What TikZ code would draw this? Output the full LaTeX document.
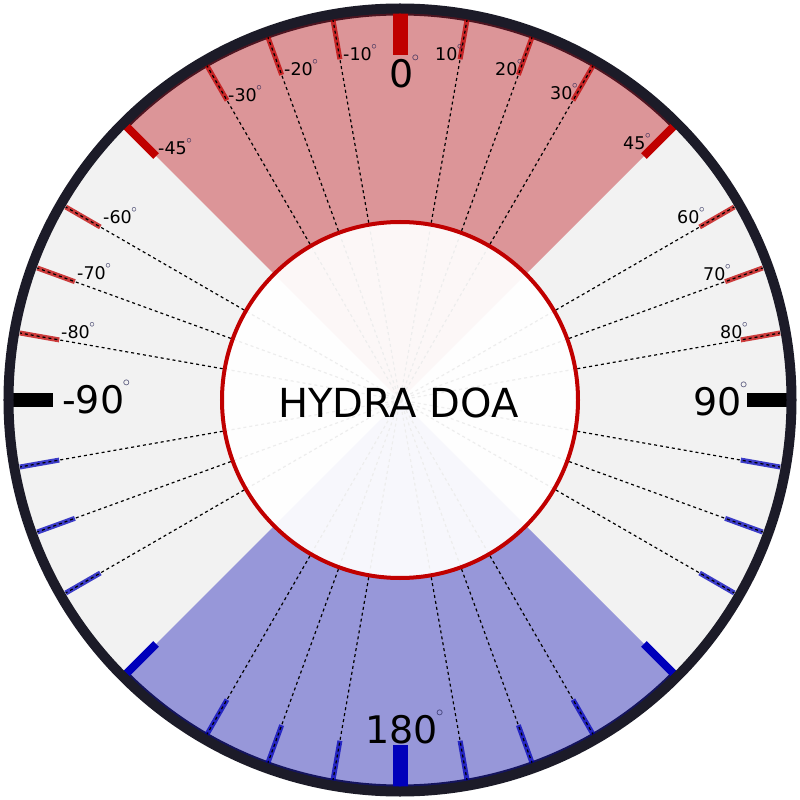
\documentclass[tikz,border=0pt]{standalone}
\usepackage{fontspec}
\setmainfont{DejaVu Sans}
\definecolor{diskgray}{HTML}{F2F2F2}
\definecolor{redfill}{HTML}{DC9598}
\definecolor{bluefill}{HTML}{9797D9}
\definecolor{darkredarc}{HTML}{4E1420}
\definecolor{darkbluearc}{HTML}{14145E}
\definecolor{majred}{HTML}{C00000}
\definecolor{majblue}{HTML}{0000BB}
\definecolor{ringc}{HTML}{1C1B28}
\definecolor{degc}{HTML}{1E1E50}
\newcommand\dgs{\kern-0.4pt\raisebox{11pt}{\fontsize{11}{11}\selectfont\color{degc}$\circ$}}
\newcommand\dgl{\kern-1.5pt\raisebox{26.5pt}{\fontsize{14}{14}\selectfont\color{degc}$\circ$}}
\tikzset{
  minorred/.style={line width=5pt, majred, opacity=0.75},
  minorblue/.style={line width=5pt, majblue, opacity=0.75},
  dl/.style={line width=1.2pt, black, dash pattern=on 3pt off 3pt},
  smalllab/.style={anchor=base west, inner sep=0pt, font=\fontsize{17.5}{17.5}\selectfont},
  biglab/.style={anchor=base west, inner sep=0pt, font=\fontsize{38}{38}\selectfont},
}
\begin{document}
\begin{tikzpicture}[x=1pt,y=1pt]
\useasboundingbox (-400,-400) rectangle (400,400);
\fill[white] (-400,-400) rectangle (400,400);
% disk and sectors
\fill[diskgray] (0,0) circle[radius=387];
\fill[redfill] (0,0) -- (45:387) arc[start angle=45,end angle=135,radius=387] -- cycle;
\fill[bluefill] (0,0) -- (-45:387) arc[start angle=-45,end angle=-135,radius=387] -- cycle;
\draw[darkredarc, line width=3pt] (45:386) arc[start angle=45,end angle=135,radius=386];
\draw[darkbluearc, line width=3pt] (-45:386) arc[start angle=-45,end angle=-135,radius=386];
% minor ticks
\foreach \b in {10,20,30,60,70,80} {
  \draw[minorred] (90-\b:346) -- (90-\b:386);
  \draw[minorred] (90+\b:346) -- (90+\b:386);
}
\foreach \b in {100,110,120,150,160,170} {
  \draw[minorblue] (90-\b:346) -- (90-\b:386);
  \draw[minorblue] (90+\b:346) -- (90+\b:386);
}
% dashed radial lines
\foreach \b in {10,20,30,60,70,80,100,110,120,150,160,170} {
  \draw[dl] (0,0) -- (90-\b:386);
  \draw[dl] (0,0) -- (90+\b:386);
}
% major ticks
\draw[majred, line width=15pt] (90:345) -- (90:387);
\draw[majred, line width=8pt] (45:345) -- (45:387);
\draw[majred, line width=8pt] (135:345) -- (135:387);
\draw[black, line width=14pt] (0:347) -- (0:388);
\draw[black, line width=14pt] (180:347) -- (180:388);
\draw[majblue, line width=15pt] (-90:345) -- (-90:387);
\draw[majblue, line width=8pt] (-45:345) -- (-45:387);
\draw[majblue, line width=8pt] (-135:345) -- (-135:387);
% inner circle
\fill[white, opacity=0.93] (0,0) circle[radius=178];
\draw[majred, line width=4pt] (0,0) circle[radius=178];
% outer ring
\draw[ringc, line width=10pt] (0,0) circle[radius=391.5];
% title
\node[inner sep=0pt, font=\fontsize{40}{40}\selectfont] (title) at (-1.5,-2.5) {HYDRA DOA};
% labels (left x, baseline y) from image coords
\node[smalllab] (lm45) at (158-400,400-155) {-45\dgs};
\node[smalllab] (lm30) at (228-400,400-102) {-30\dgs};
\node[smalllab] (lm20) at (284-400,400-76) {-20\dgs};
\node[smalllab] (lm10) at (343-400,400-61) {-10\dgs};
\node[biglab] (l0) at (389-400,400-88) {0\dgl};
\node[smalllab] (l10) at (435-400,400-61) {10\dgs};
\node[smalllab] (l20) at (495-400,400-76) {20\dgs};
\node[smalllab] (l30) at (550-400,400-100) {30\dgs};
\node[smalllab] (l45) at (623-400,400-150) {45\dgs};
\node[smalllab] (l60) at (677-400,400-224) {60\dgs};
\node[smalllab] (l70) at (703-400,400-281) {70\dgs};
\node[smalllab] (l80) at (720-400,400-339) {80\dgs};
\node[smalllab] (lm60) at (103-400,400-224) {-60\dgs};
\node[smalllab] (lm70) at (77-400,400-280) {-70\dgs};
\node[smalllab] (lm80) at (61-400,400-339) {-80\dgs};
\node[biglab] (lm90) at (62-400,400-413) {-90\dgl};
\node[biglab] (l90) at (693-400,400-415) {90\dgl};
\node[biglab] (l180) at (365-400,400-743) {180\dgl};
\end{tikzpicture}
\end{document}
